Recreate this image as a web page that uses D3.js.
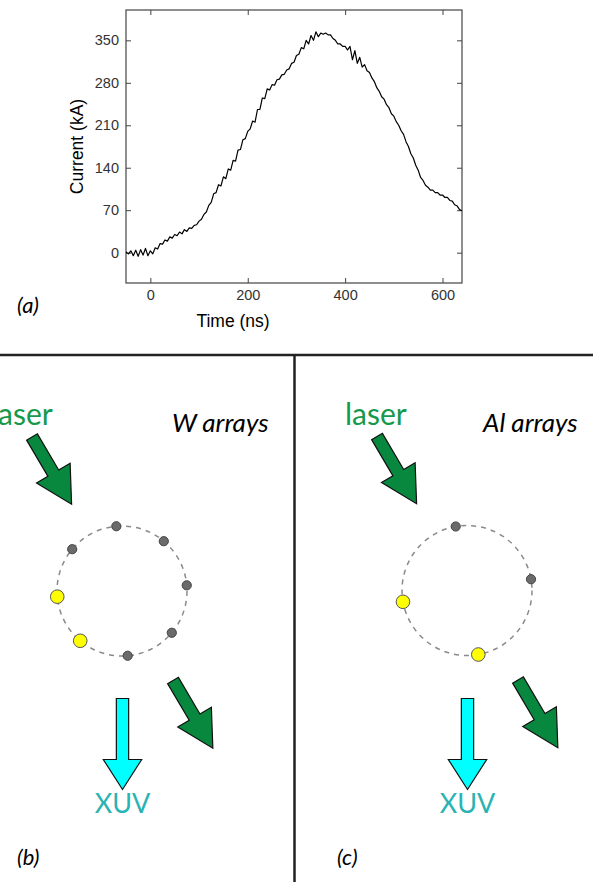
<!DOCTYPE html>
<html>
<head>
<meta charset="utf-8">
<script src="https://cdn.jsdelivr.net/npm/d3@7/dist/d3.min.js"></script>
<style>
  html, body { margin: 0; padding: 0; background: #fff; }
  svg { display: block; }
</style>
</head>
<body>
<svg id="chart" width="593" height="882"></svg>
<script>
// ---------- Data ----------
const timeNs = [-50,-45,-40,-35,-30,-25,-20,-15,-10,-5,0,5,10,15,20,25,30,35,40,45,50,55,60,65,70,75,80,85,90,95,
  100,105,110,115,120,125,130,135,140,145,150,155,160,165,170,175,180,185,190,195,
  200,205,210,215,220,225,230,235,240,245,250,255,260,265,270,275,280,285,290,295,
  300,305,310,315,320,325,330,335,340,345,350,355,360,365,370,375,380,385,390,395,
  400,405,410,415,420,425,430,435,440,445,450,455,460,465,470,475,480,485,490,495,
  500,505,510,515,520,525,530,535,540,545,550,555,560,565,570,575,580,585,590,595,
  600,605,610,615,620,625,630,635,640];
const currentKA = [1,-2,3,-5,4,-6,5,-4,7,-5,3,-2,8,6,15,14,21,19,26,24,30,28,34,31,38,35,41,40,45,46,
  52,55,63,67,78,83,97,99,112,110,125,122,138,136,152,151,169,170,186,188,
  200,204,217,215,236,236,255,254,270,268,277,276,285,286,293,294,301,303,312,314,
  325,327,338,336,350,344,358,350,364,356,362,360,362,359,359,353,350,344,344,340,
  340,334,340,318,333,312,322,306,310,300,297,288,282,272,266,257,253,244,239,229,
  225,216,210,201,195,183,175,163,156,144,136,124,119,111,108,103,103,99,99,95,
  95,91,91,86,85,79,77,71,69];
const xTicks = [0, 200, 400, 600];
const yTicks = [0, 70, 140, 210, 280, 350];
const xDomain = [-50, 640];
const yDomain = [-50, 400];

// Schematic panels: wire count on the array circle and which wires are lit (yellow)
const panelNames = ["W arrays", "Al arrays"];
const panelLetters = ["(b)", "(c)"];
const wireCounts = [8, 4];
const wireAngleOffsets = [-5, -10];
const litWires = [[3, 4], [1, 2]];

// ---------- Drawing ----------
const svg = d3.select("#chart");
svg.append("rect").attr("width", 593).attr("height", 882).attr("fill", "#fff");

// Panel (a): current trace
const plot = { left: 126, right: 462, top: 10, bottom: 283 };
const x = d3.scaleLinear().domain(xDomain).range([plot.left, plot.right]);
const y = d3.scaleLinear().domain(yDomain).range([plot.bottom, plot.top]);

const axisFont = "'Liberation Sans', Arial, sans-serif";

function styleAxis(g) {
  g.select(".domain").remove();
  g.selectAll(".tick line").attr("stroke", "#444").attr("stroke-width", 1);
  g.selectAll(".tick text").attr("fill", "#333").style("font-family", axisFont).style("font-size", "14.5px");
}

svg.append("g").attr("transform", `translate(0,${plot.bottom})`)
  .call(d3.axisBottom(x).tickValues(xTicks).tickSizeInner(-5).tickSizeOuter(0).tickPadding(7))
  .call(styleAxis);
svg.append("g").attr("transform", `translate(0,${plot.top})`)
  .call(d3.axisTop(x).tickValues(xTicks).tickSizeInner(-5).tickSizeOuter(0).tickFormat(""))
  .call(styleAxis);
svg.append("g").attr("transform", `translate(${plot.left},0)`)
  .call(d3.axisLeft(y).tickValues(yTicks).tickSizeInner(-5).tickSizeOuter(0).tickPadding(7))
  .call(styleAxis);
svg.append("g").attr("transform", `translate(${plot.right},0)`)
  .call(d3.axisRight(y).tickValues(yTicks).tickSizeInner(-5).tickSizeOuter(0).tickFormat(""))
  .call(styleAxis);

svg.append("rect")
  .attr("x", plot.left).attr("y", plot.top)
  .attr("width", plot.right - plot.left).attr("height", plot.bottom - plot.top)
  .attr("fill", "none").attr("stroke", "#444").attr("stroke-width", 1.2);

const series = timeNs.map((t, i) => [t, currentKA[i]]);
svg.append("path")
  .datum(series)
  .attr("fill", "none")
  .attr("stroke", "#000")
  .attr("stroke-width", 1.2)
  .attr("stroke-linejoin", "round")
  .attr("d", d3.line().x(d => x(d[0])).y(d => y(d[1])));

svg.append("text")
  .attr("x", 233).attr("y", 327)
  .attr("text-anchor", "middle")
  .style("font-family", axisFont).style("font-size", "17.5px").attr("fill", "#000")
  .text("Time (ns)");
svg.append("text")
  .attr("transform", `translate(83,${(plot.top + plot.bottom) / 2}) rotate(-90)`)
  .attr("text-anchor", "middle")
  .style("font-family", axisFont).style("font-size", "17.5px").attr("fill", "#000")
  .text("Current (kA)");

const diagFont = "Lato, 'Open Sans', sans-serif";
svg.append("text").attr("x", 17).attr("y", 312.5)
  .style("font-family", diagFont).style("font-style", "italic").style("font-size", "22px")
  .attr("fill", "#000").text("(a)");

// Separators
svg.append("line").attr("x1", 0).attr("x2", 593).attr("y1", 355).attr("y2", 355)
  .attr("stroke", "#222").attr("stroke-width", 2.5);
svg.append("line").attr("x1", 294.5).attr("x2", 294.5).attr("y1", 355).attr("y2", 882)
  .attr("stroke", "#222").attr("stroke-width", 2.5);

// Arrow polygon helper
function arrowPath(tx, ty, angleDeg, L, shaftW, headW, headL) {
  const a = angleDeg * Math.PI / 180, c = Math.cos(a), s = Math.sin(a);
  const pts = [[0, -shaftW / 2], [L - headL, -shaftW / 2], [L - headL, -headW / 2], [L, 0],
               [L - headL, headW / 2], [L - headL, shaftW / 2], [0, shaftW / 2]];
  return "M" + pts.map(([u, v]) => [tx + u * c - v * s, ty + u * s + v * c].map(n => n.toFixed(2)).join(",")).join("L") + "Z";
}

const panels = [
  { cx: 122, cy: 591, laserX: -9, nameX: 172, letterX: 17 },
  { cx: 467, cy: 590.5, laserX: 345, nameX: 483, letterX: 337 }
];

panels.forEach((p, k) => {
  const g = svg.append("g");
  const r = 65;
  // dashed array circle
  g.append("circle").attr("cx", p.cx).attr("cy", p.cy).attr("r", r)
    .attr("fill", "none").attr("stroke", "#8a8a8a").attr("stroke-width", 1.5)
    .attr("stroke-dasharray", "5,5");
  // wires
  const angle = d3.scaleLinear().domain([0, wireCounts[k]]).range([wireAngleOffsets[k], wireAngleOffsets[k] + 360]);
  const wires = d3.range(wireCounts[k]).map(i => ({ i, lit: litWires[k].includes(i), a: angle(i) * Math.PI / 180 }));
  g.selectAll("circle.wire").data(wires.filter(d => !d.lit).concat(wires.filter(d => d.lit))).join("circle")
    .attr("class", "wire")
    .attr("cx", d => p.cx + r * Math.cos(d.a))
    .attr("cy", d => p.cy + r * Math.sin(d.a))
    .attr("r", d => d.lit ? 6.8 : 4.6)
    .attr("fill", d => d.lit ? "#ffff00" : "#6b6b6b")
    .attr("stroke", d => d.lit ? "#555" : "#444")
    .attr("stroke-width", 1);

  // incoming laser arrow
  g.append("path").attr("d", arrowPath(p.cx - 90, p.cy - 154, 59.5, 78, 12.5, 39, 36))
    .attr("fill", "#08873f").attr("stroke", "#111").attr("stroke-width", 1.2).attr("stroke-linejoin", "miter");
  // outgoing laser arrow
  g.append("path").attr("d", arrowPath(p.cx + 51, p.cy + 89.5, 59.5, 78.5, 12.5, 39, 36))
    .attr("fill", "#08873f").attr("stroke", "#111").attr("stroke-width", 1.2);
  // XUV arrow
  g.append("path").attr("d", arrowPath(p.cx + 0.5, 698.5, 90, 91, 12.3, 38.4, 30))
    .attr("fill", "#00ffff").attr("stroke", "#111").attr("stroke-width", 1.2);

  g.append("text").attr("x", p.laserX).attr("y", 425)
    .style("font-family", diagFont).style("font-size", "30px").attr("fill", "#15994c").text("laser");
  g.append("text").attr("x", p.nameX).attr("y", 432)
    .style("font-family", diagFont).style("font-style", "italic").style("font-size", "26px")
    .attr("fill", "#000").text(panelNames[k]);
  g.append("text").attr("x", p.cx + 0.5).attr("y", 813).attr("text-anchor", "middle")
    .style("font-family", diagFont).style("font-size", "27px").attr("fill", "#2ab3b3").text("XUV");
  g.append("text").attr("x", p.letterX).attr("y", 865)
    .style("font-family", diagFont).style("font-style", "italic").style("font-size", "22px")
    .attr("fill", "#000").text(panelLetters[k]);
});
</script>
</body>
</html>
